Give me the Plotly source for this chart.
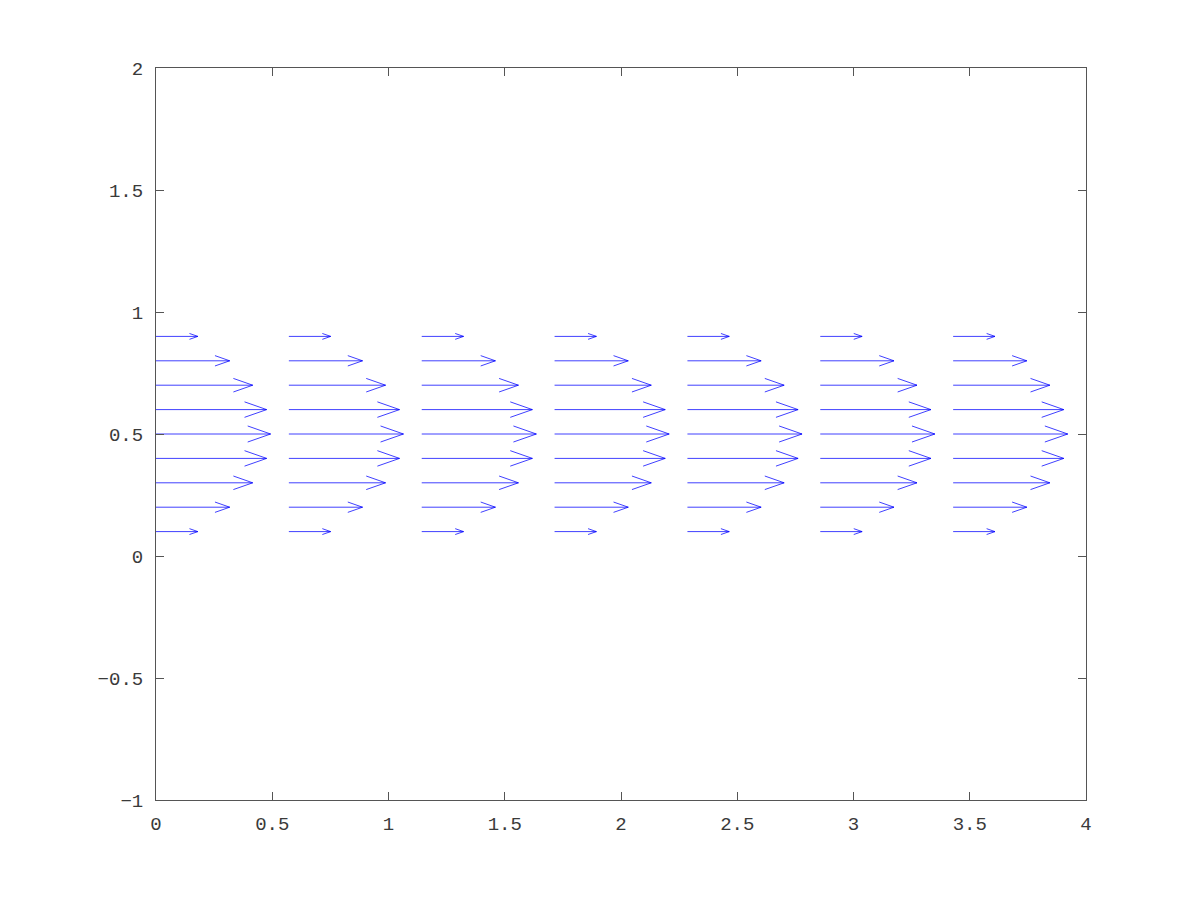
import plotly.graph_objects as go

# Data
x_positions = [0.0, 0.5714, 1.1429, 1.7143, 2.2857, 2.8571, 3.4286]
y_positions = [0.1, 0.2, 0.3, 0.4, 0.5, 0.6, 0.7, 0.8, 0.9]
u_values = [0.18, 0.317, 0.416, 0.476, 0.493, 0.476, 0.416, 0.317, 0.18]
v_values = [0.0] * 9

x_ticks = [0, 0.5, 1, 1.5, 2, 2.5, 3, 3.5, 4]
x_ticklabels = ["0", "0.5", "1", "1.5", "2", "2.5", "3", "3.5", "4"]
y_ticks = [-1, -0.5, 0, 0.5, 1, 1.5, 2]
y_ticklabels = ["\u22121", "\u22120.5", "0", "0.5", "1", "1.5", "2"]

arrow_size = 0.2

xs, ys = [], []
for x0 in x_positions:
    for y0, u, v in zip(y_positions, u_values, v_values):
        x1, y1 = x0 + u, y0 + v
        # shaft
        xs += [x0, x1, None]
        ys += [y0, y1, None]
        # head
        hx = x1 - arrow_size * u
        hy_off = arrow_size * u / 3
        xs += [hx, x1, hx, None]
        ys += [y1 + hy_off, y1, y1 - hy_off, None]

fig = go.Figure()
fig.add_trace(go.Scatter(x=xs, y=ys, mode="lines",
                         line=dict(color="rgba(0,0,255,0.75)", width=1),
                         hoverinfo="skip", showlegend=False))

axis_common = dict(showgrid=False, zeroline=False, showline=True, mirror="ticks",
                   linecolor="#555555", linewidth=1, ticks="inside", ticklen=8,
                   tickcolor="#555555",
                   tickfont=dict(family="Liberation Mono", size=19, color="#3a3a3a"))

fig.update_layout(
    width=1200, height=900,
    margin=dict(l=148, r=122, t=60, b=108),
    plot_bgcolor="white", paper_bgcolor="white",
    xaxis=dict(range=[0, 4], tickvals=x_ticks, ticktext=x_ticklabels,
               ticklabelstandoff=6, **axis_common),
    yaxis=dict(range=[-1, 2], tickvals=y_ticks, ticktext=y_ticklabels,
               ticklabelstandoff=8, **axis_common),
)

fig.write_html("out.html")
